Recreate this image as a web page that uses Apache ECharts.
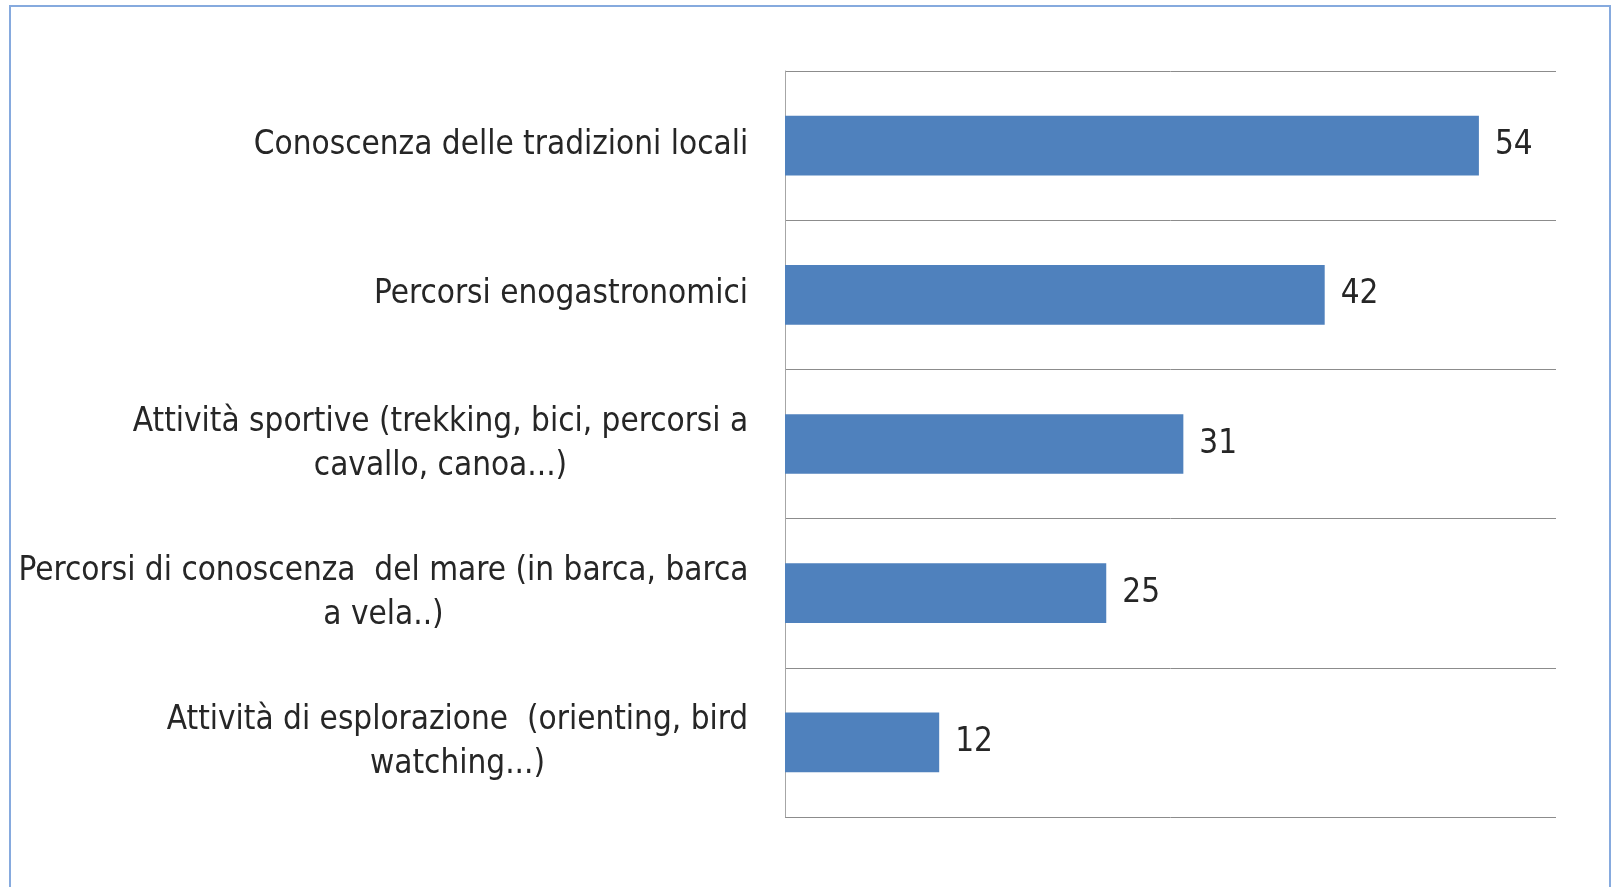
<!DOCTYPE html>
<html>
<head>
<meta charset="utf-8">
<script src="https://cdn.jsdelivr.net/npm/echarts@6/dist/echarts.min.js"></script>
<style>
html,body{margin:0;padding:0;background:#fff;}
#chart{position:absolute;left:0;top:0;width:1616px;height:887px;}
#frame{position:absolute;left:9px;top:5px;width:1602px;height:900px;border:2px solid #86aade;box-sizing:border-box;pointer-events:none;}
</style>
</head>
<body>
<div id="chart"></div>
<div id="frame"></div>
<script>
const categories = [
  "Conoscenza delle tradizioni locali",
  "Percorsi enogastronomici",
  "Attività sportive (trekking, bici, percorsi a\ncavallo, canoa...)",
  "Percorsi di conoscenza  del mare (in barca, barca\na vela..)",
  "Attività di esplorazione  (orienting, bird\nwatching...)"
];
const values = [54, 42, 31, 25, 12];

const FONT = '"Liberation Sans Narrow", "Arial Narrow", "DejaVu Sans Condensed", sans-serif';
const FS = 33;
const LH = 44;
const TXT = '#262626';

const cv = document.createElement('canvas').getContext('2d');
cv.font = FS + 'px ' + FONT;
const rich = {};
categories.forEach((c, i) => {
  const w = Math.max(...c.split('\n').map(l => cv.measureText(l).width));
  rich['c' + i] = {width: Math.ceil(w) + 1, align: 'center', fontSize: FS, fontFamily: FONT, color: TXT, lineHeight: LH};
});

const chart = echarts.init(document.getElementById('chart'), null, {renderer: 'canvas'});
chart.setOption({
  animation: false,
  backgroundColor: '#fff',
  grid: {left: 785, right: 60, top: 71, bottom: 70, containLabel: false, outerBoundsMode: 'none'},
  xAxis: {
    type: 'value', min: 0, max: 60,
    axisLine: {show: false}, axisTick: {show: false}, axisLabel: {show: false},
    splitLine: {show: false}
  },
  yAxis: {
    type: 'category', inverse: true, data: categories,
    axisLine: {show: true, lineStyle: {color: '#a6a6a6', width: 1}},
    axisTick: {show: false},
    splitLine: {show: true, lineStyle: {color: '#8c8c8c', width: 1}},
    axisLabel: {
      margin: 36, align: 'right',
      formatter: (v, i) => v.split('\n').map(l => '{c' + i + '|' + l + '}').join('\n'),
      rich: rich
    }
  },
  series: [{
    type: 'bar', data: values, barCategoryGap: '60%',
    itemStyle: {color: '#4F81BD'},
    label: {show: true, position: 'right', distance: 16, fontSize: FS, fontFamily: FONT, color: TXT}
  }]
});
</script>
</body>
</html>
